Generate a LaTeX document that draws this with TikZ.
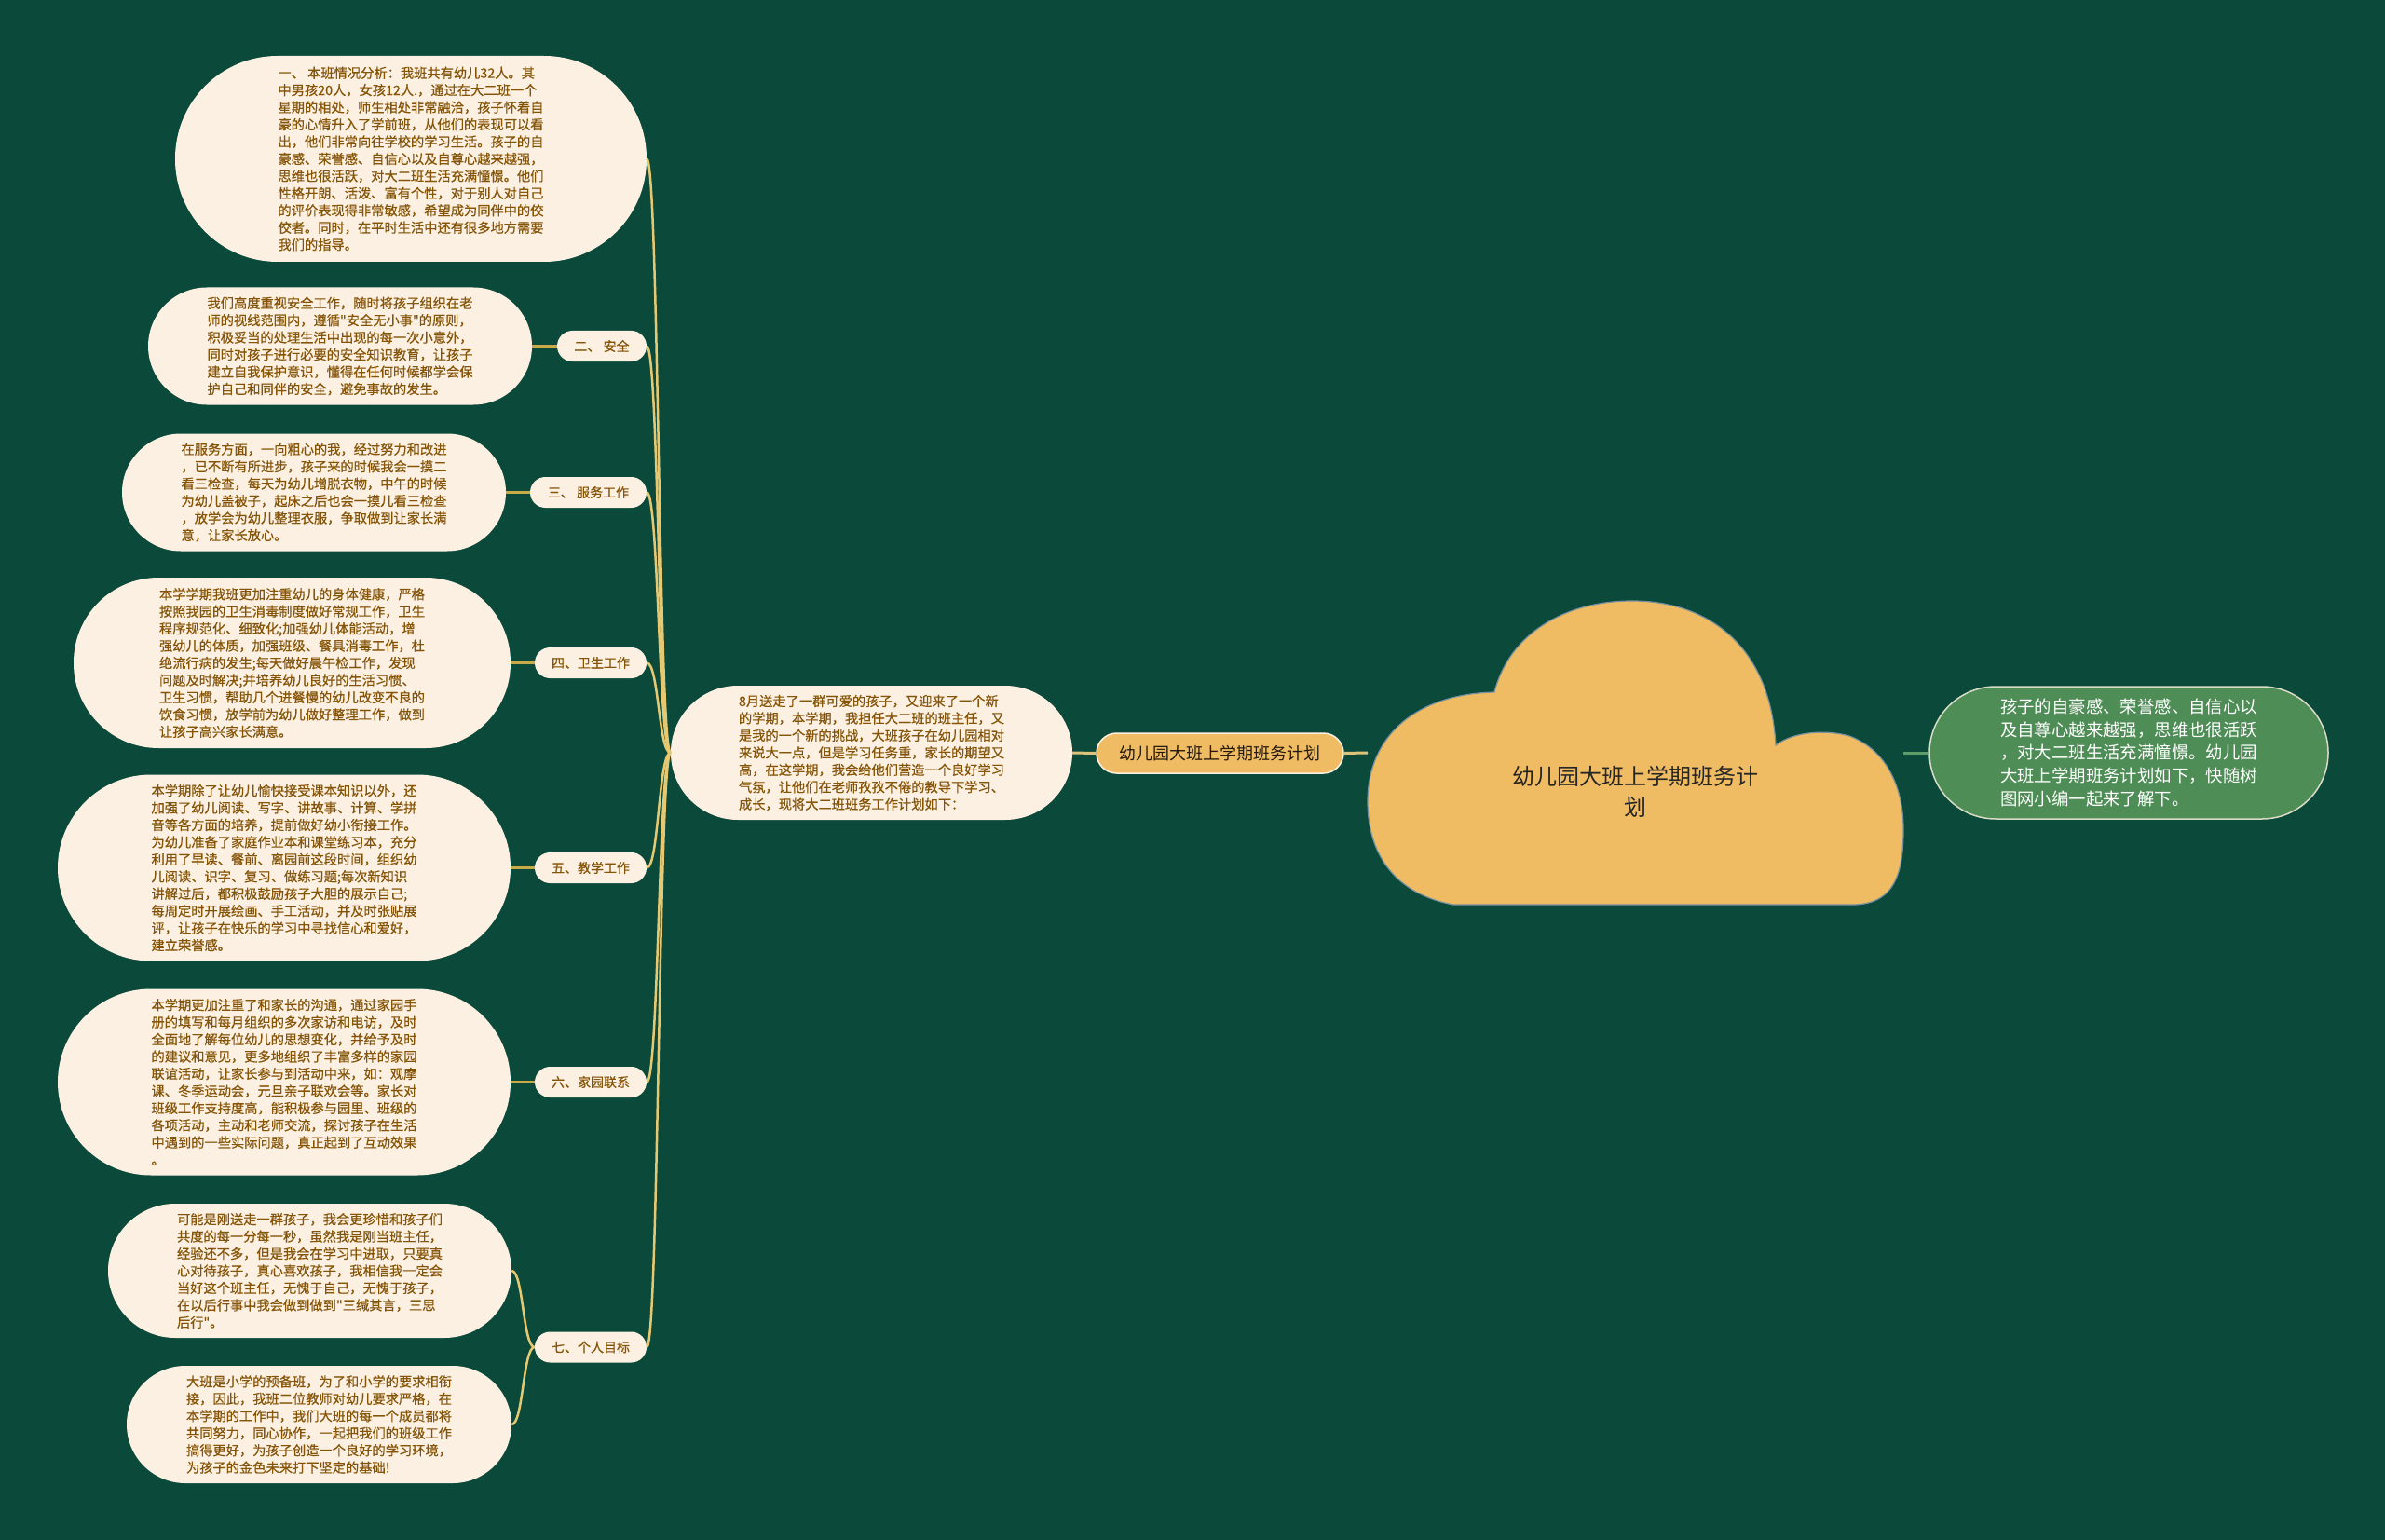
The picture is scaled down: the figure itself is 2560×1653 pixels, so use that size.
\documentclass[tikz,border=0pt]{standalone}
\usepackage{fontspec}
\setmainfont{Noto Sans CJK SC}
\newfontfamily\heavycjk{Noto Sans CJK SC}[RawFeature={embolden=0.5}]
\usetikzlibrary{calc}
\definecolor{bgc}{HTML}{0B4A3A}
\definecolor{creamc}{HTML}{FCF0E2}
\definecolor{txtbrown}{HTML}{855407}
\definecolor{goldc}{HTML}{F0BC63}
\definecolor{branchc}{HTML}{E6C872}
\definecolor{subc}{HTML}{C8AA48}
\definecolor{mainlc}{HTML}{DCC27A}
\definecolor{leafc}{HTML}{4F8D57}
\definecolor{leaflc}{HTML}{5E9C68}
\definecolor{cloudedge}{HTML}{7590A0}
\begin{document}
\begin{tikzpicture}[x=1pt,y=-1pt,
  txt/.style={fill=creamc, text=txtbrown, align=left, inner sep=0pt,
    font=\heavycjk\fontsize{14.25pt}{18.45pt}\selectfont},
  lbl/.style={fill=creamc, text=txtbrown, inner sep=0pt, minimum height=33pt,
    rounded corners=16.5pt, font=\heavycjk\fontsize{14pt}{17pt}\selectfont},
  brl/.style={draw=branchc, line width=2.5pt},
  subl/.style={draw=subc, line width=3pt},
  mainl/.style={draw=mainlc, line width=3pt}]
\fill[bgc] (0,0) rectangle (2560,1653);
\useasboundingbox (0,0) rectangle (2560,1653);

% cloud
\path[fill=goldc, draw=cloudedge, line width=1.2pt]
  (1604,743) .. controls (1620,680) and (1680,645) .. (1752,645)
  .. controls (1830,645) and (1900,690) .. (1906,800)
  .. controls (1925,785) and (1960,783) .. (1985,790)
  .. controls (2025,805) and (2043,845) .. (2043,890)
  .. controls (2043,935) and (2035,970) .. (1990,971)
  -- (1560,971)
  .. controls (1500,960) and (1468,920) .. (1468,860)
  .. controls (1468,790) and (1520,745) .. (1604,743) -- cycle;
\node[align=center, text=black!85, inner sep=0pt, font=\fontsize{24pt}{32.7pt}\selectfont] (cloud) at (1755,850) {幼儿园大班上学期班务计\\划};
\coordinate (cl) at (1468,808);
\coordinate (cr) at (2043,808);

% green node
\node[fill=leafc, draw=creamc!80!leafc, line width=1.5pt, text=white, align=left, inner sep=0pt,
  minimum width=428pt, minimum height=142pt, rounded corners=71pt,
  font=\fontsize{18.4pt}{24.6pt}\selectfont] (green) at (2285,808)
  {孩子的自豪感、荣誉感、自信心以\\及自尊心越来越强，思维也很活跃\\，对大二班生活充满憧憬。幼儿园\\大班上学期班务计划如下，快随树\\图网小编一起来了解下。};

% title node
\node[fill=goldc, draw=creamc, line width=1.5pt, text=black!80!brown, inner sep=0pt,
  minimum width=265pt, minimum height=43pt, rounded corners=21.5pt,
  font=\fontsize{18pt}{22pt}\selectfont] (title) at (1309.5,808.5) {幼儿园大班上学期班务计划};

% intro
\node[txt, minimum width=431pt, minimum height=144pt, rounded corners=72pt] (intro) at (935.5,808)
  {8月送走了一群可爱的孩子，又迎来了一个新\\的学期，本学期，我担任大二班的班主任，又\\是我的一个新的挑战，大班孩子在幼儿园相对\\来说大一点，但是学习任务重，家长的期望又\\高，在这学期，我会给他们营造一个良好学习\\气氛，让他们在老师孜孜不倦的教导下学习、\\成长，现将大二班班务工作计划如下：};

% text nodes
\node[txt, minimum width=506pt, minimum height=221pt, rounded corners=110pt] (n1) at (441,170.5)
  {一、 本班情况分析：我班共有幼儿32人。其\\中男孩20人，女孩12人.，通过在大二班一个\\星期的相处，师生相处非常融洽，孩子怀着自\\豪的心情升入了学前班，从他们的表现可以看\\出，他们非常向往学校的学习生活。孩子的自\\豪感、荣誉感、自信心以及自尊心越来越强，\\思维也很活跃，对大二班生活充满憧憬。他们\\性格开朗、活泼、富有个性，对于别人对自己\\的评价表现得非常敏感，希望成为同伴中的佼\\佼者。同时，在平时生活中还有很多地方需要\\我们的指导。};

\node[txt, minimum width=412pt, minimum height=126pt, rounded corners=63pt] (n2) at (365,371.5)
  {我们高度重视安全工作，随时将孩子组织在老\\师的视线范围内，遵循"安全无小事"的原则，\\积极妥当的处理生活中出现的每一次小意外，\\同时对孩子进行必要的安全知识教育，让孩子\\建立自我保护意识，懂得在任何时候都学会保\\护自己和同伴的安全，避免事故的发生。};

\node[txt, minimum width=412pt, minimum height=126pt, rounded corners=63pt] (n3) at (337,528.5)
  {在服务方面，一向粗心的我，经过努力和改进\\，已不断有所进步，孩子来的时候我会一摸二\\看三检查，每天为幼儿增脱衣物，中午的时候\\为幼儿盖被子，起床之后也会一摸儿看三检查\\，放学会为幼儿整理衣服，争取做到让家长满\\意，让家长放心。};

\node[txt, minimum width=469pt, minimum height=183pt, rounded corners=91pt] (n4) at (313.5,711.5)
  {本学学期我班更加注重幼儿的身体健康，严格\\按照我园的卫生消毒制度做好常规工作，卫生\\程序规范化、细致化;加强幼儿体能活动，增\\强幼儿的体质，加强班级、餐具消毒工作，杜\\绝流行病的发生;每天做好晨午检工作，发现\\问题及时解决;并培养幼儿良好的生活习惯、\\卫生习惯，帮助几个进餐慢的幼儿改变不良的\\饮食习惯，放学前为幼儿做好整理工作，做到\\让孩子高兴家长满意。};

\node[txt, minimum width=486pt, minimum height=200pt, rounded corners=100pt] (n5) at (305,931.5)
  {本学期除了让幼儿愉快接受课本知识以外，还\\加强了幼儿阅读、写字、讲故事、计算、学拼\\音等各方面的培养，提前做好幼小衔接工作。\\为幼儿准备了家庭作业本和课堂练习本，充分\\利用了早读、餐前、离园前这段时间，组织幼\\儿阅读、识字、复习、做练习题;每次新知识\\讲解过后，都积极鼓励孩子大胆的展示自己;\\每周定时开展绘画、手工活动，并及时张贴展\\评，让孩子在快乐的学习中寻找信心和爱好，\\建立荣誉感。};

\node[txt, minimum width=486pt, minimum height=200pt, rounded corners=100pt] (n6) at (305,1161.5)
  {本学期更加注重了和家长的沟通，通过家园手\\册的填写和每月组织的多次家访和电访，及时\\全面地了解每位幼儿的思想变化，并给予及时\\的建议和意见，更多地组织了丰富多样的家园\\联谊活动，让家长参与到活动中来，如：观摩\\课、冬季运动会，元旦亲子联欢会等。家长对\\班级工作支持度高，能积极参与园里、班级的\\各项活动，主动和老师交流，探讨孩子在生活\\中遇到的一些实际问题，真正起到了互动效果\\。};

\node[txt, minimum width=433pt, minimum height=144pt, rounded corners=72pt] (n7a) at (332.5,1364)
  {可能是刚送走一群孩子，我会更珍惜和孩子们\\共度的每一分每一秒，虽然我是刚当班主任，\\经验还不多，但是我会在学习中进取，只要真\\心对待孩子，真心喜欢孩子，我相信我一定会\\当好这个班主任，无愧于自己，无愧于孩子，\\在以后行事中我会做到做到"三缄其言，三思\\后行"。};

\node[txt, minimum width=413pt, minimum height=126pt, rounded corners=63pt] (n7b) at (342.5,1529)
  {大班是小学的预备班，为了和小学的要求相衔\\接，因此，我班二位教师对幼儿要求严格，在\\本学期的工作中，我们大班的每一个成员都将\\共同努力，同心协作，一起把我们的班级工作\\搞得更好，为孩子创造一个良好的学习环境，\\为孩子的金色未来打下坚定的基础!};

% labels
\node[lbl, minimum width=96pt] (l2) at (646,371.5) {二、 安全};
\node[lbl, minimum width=125pt] (l3) at (631.5,528.5) {三、 服务工作};
\node[lbl, minimum width=120pt] (l4) at (634,711.5) {四、卫生工作};
\node[lbl, minimum width=120pt] (l5) at (634,931.5) {五、教学工作};
\node[lbl, minimum width=120pt] (l6) at (634,1161.5) {六、家园联系};
\node[lbl, minimum width=120pt] (l7) at (634,1446) {七、个人目标};

% main connectors
\draw[mainl] (title.east) -- (cl);
\draw[mainl] (intro.east) -- (title.west);
\draw[draw=leaflc, line width=3pt] (cr) -- (green.west);

% branches
\foreach \t in {n1,l2,l3,l4,l5,l6,l7}{
  \draw[brl] (intro.west) .. controls +(-13,0) and +(13,0) .. (\t.east);
}
\draw[brl] (l7.west) .. controls +(-12.5,0) and +(12.5,0) .. (n7a.east);
\draw[brl] (l7.west) .. controls +(-12.5,0) and +(12.5,0) .. (n7b.east);

% sub connectors
\draw[subl] (l2.west) -- (n2.east);
\draw[subl] (l3.west) -- (n3.east);
\draw[subl] (l4.west) -- (n4.east);
\draw[subl] (l5.west) -- (n5.east);
\draw[subl] (l6.west) -- (n6.east);
\end{tikzpicture}
\end{document}
